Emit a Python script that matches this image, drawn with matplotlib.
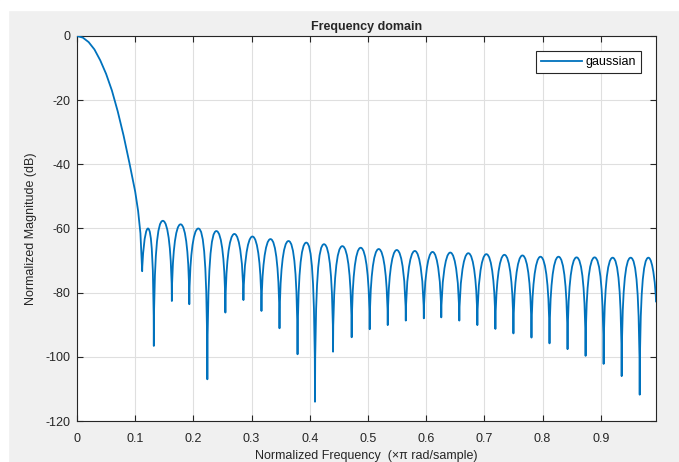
import matplotlib
matplotlib.use('Agg')
import matplotlib.pyplot as plt
from matplotlib.path import Path
from matplotlib.patches import PathPatch, Rectangle
from matplotlib.lines import Line2D

plt.rcParams['font.family'] = ['Liberation Sans', 'DejaVu Sans']
plt.rcParams['axes.unicode_minus'] = False

# main lobe
main_freq = [0.0, 0.01, 0.02, 0.03, 0.04, 0.05, 0.06, 0.07, 0.08, 0.09, 0.1, 0.105, 0.109, 0.112]
main_db = [0.0, -0.5, -1.9, -4.2, -7.6, -11.8, -17.0, -23.5, -31.0, -39.5, -48.5, -54.5, -61.5, -73.3]

# side lobe nulls (position, depth) and lobe peaks
null_freq = [0.112, 0.132, 0.163, 0.193, 0.224, 0.255, 0.286, 0.317, 0.348, 0.379,
             0.409, 0.440, 0.472, 0.503, 0.534, 0.565, 0.596, 0.626, 0.657, 0.688,
             0.719, 0.750, 0.781, 0.812, 0.843, 0.874, 0.905, 0.936, 0.967]
null_db = [-73.3, -96.6, -82.6, -83.6, -107.0, -86.2, -82.3, -85.7, -91.1, -99.2,
           -114.0, -98.4, -93.9, -91.4, -90.1, -88.7, -88.0, -87.7, -88.7, -90.1,
           -91.3, -92.7, -94.0, -95.8, -97.6, -99.7, -102.2, -106.0, -111.8]
peak_db = [-60.0, -57.6, -58.7, -60.0, -60.8, -61.7, -62.5, -63.3, -63.9, -64.4,
           -64.9, -65.5, -66.0, -66.4, -66.7, -67.0, -67.3, -67.5, -67.7, -68.0,
           -68.2, -68.4, -68.8, -68.8, -69.0, -69.0, -69.1, -69.1]

# last (cut) lobe at the right edge
last_peak_freq = 0.982
last_peak_db = -69.1
end_freq = 0.995
end_db = -82.8

blue = '#0072bd'
dark = '#262626'

fig = plt.figure(figsize=(6.79, 4.62), dpi=100, facecolor='#f0f0f0')
fig.patches.append(Rectangle((0, 452 / 462), 1, 10 / 462, transform=fig.transFigure,
                             color='white', zorder=0))
fig.patches.append(Rectangle((0, 0), 8 / 679, 1, transform=fig.transFigure,
                             color='white', zorder=0))

ax = fig.add_axes([77 / 679, 41 / 462, 579 / 679, 385 / 462])

# build the curve: main lobe as points, each side lobe as an arch
verts = [(main_freq[0], main_db[0])]
codes = [Path.MOVETO]
for f, d in zip(main_freq[1:], main_db[1:]):
    verts.append((f, d))
    codes.append(Path.LINETO)


def arch_up(x0, y0, xp, p):
    h = xp - x0
    return [(x0 + 0.03 * h, p - 10), (x0 + 0.4 * h, p), (xp, p)]


def arch_down(xp, p, x1, y1):
    h = x1 - xp
    return [(xp + 0.6 * h, p), (x1 - 0.03 * h, p - 10), (x1, y1)]


for i in range(len(peak_db)):
    x0, y0 = null_freq[i], null_db[i]
    x1, y1 = null_freq[i + 1], null_db[i + 1]
    xm = (x0 + x1) / 2
    verts += arch_up(x0, y0, xm, peak_db[i])
    verts += arch_down(xm, peak_db[i], x1, y1)
    codes += [Path.CURVE4] * 6

verts += arch_up(null_freq[-1], null_db[-1], last_peak_freq, last_peak_db)
verts += arch_down(last_peak_freq, last_peak_db, end_freq, end_db)
codes += [Path.CURVE4] * 6

curve = PathPatch(Path(verts, codes), fill=False, edgecolor=blue, lw=1.3,
                  joinstyle='round', capstyle='round', zorder=3)
ax.add_patch(curve)

ax.set_xlim(0, 0.995)
ax.set_ylim(-120, 0)
ax.set_xticks([0, 0.1, 0.2, 0.3, 0.4, 0.5, 0.6, 0.7, 0.8, 0.9])
ax.set_xticklabels(['0', '0.1', '0.2', '0.3', '0.4', '0.5', '0.6', '0.7', '0.8', '0.9'])
ax.set_yticks([0, -20, -40, -60, -80, -100, -120])

ax.grid(True, color='#dfdfdf', lw=0.8)
ax.set_axisbelow(True)
for s in ax.spines.values():
    s.set_color(dark)
    s.set_linewidth(0.8)
ax.tick_params(direction='in', length=4, width=0.8, color=dark, labelcolor=dark,
               labelsize=9, top=True, right=True)
ax.tick_params(axis='x', pad=9)
ax.tick_params(axis='y', pad=5)

ax.set_title('Frequency domain', fontsize=9, fontweight='bold', color=dark, pad=4)
ax.set_xlabel('Normalized Frequency  (\u00d7\u03c0 rad/sample)', fontsize=9,
              color=dark, labelpad=3)
ax.set_ylabel('Normalized Magnitude (dB)', fontsize=9, color=dark, labelpad=6)

proxy = Line2D([], [], color=blue, lw=1.3)
leg = ax.legend([proxy], ['gaussian'], loc='upper right', fontsize=9,
                handlelength=3.3, handletextpad=0.3, fancybox=False,
                framealpha=1, edgecolor=dark, borderpad=0.4,
                bbox_to_anchor=(0.985, 0.976))
leg.get_frame().set_linewidth(0.8)

fig.savefig('out.png', dpi=100, facecolor=fig.get_facecolor())
